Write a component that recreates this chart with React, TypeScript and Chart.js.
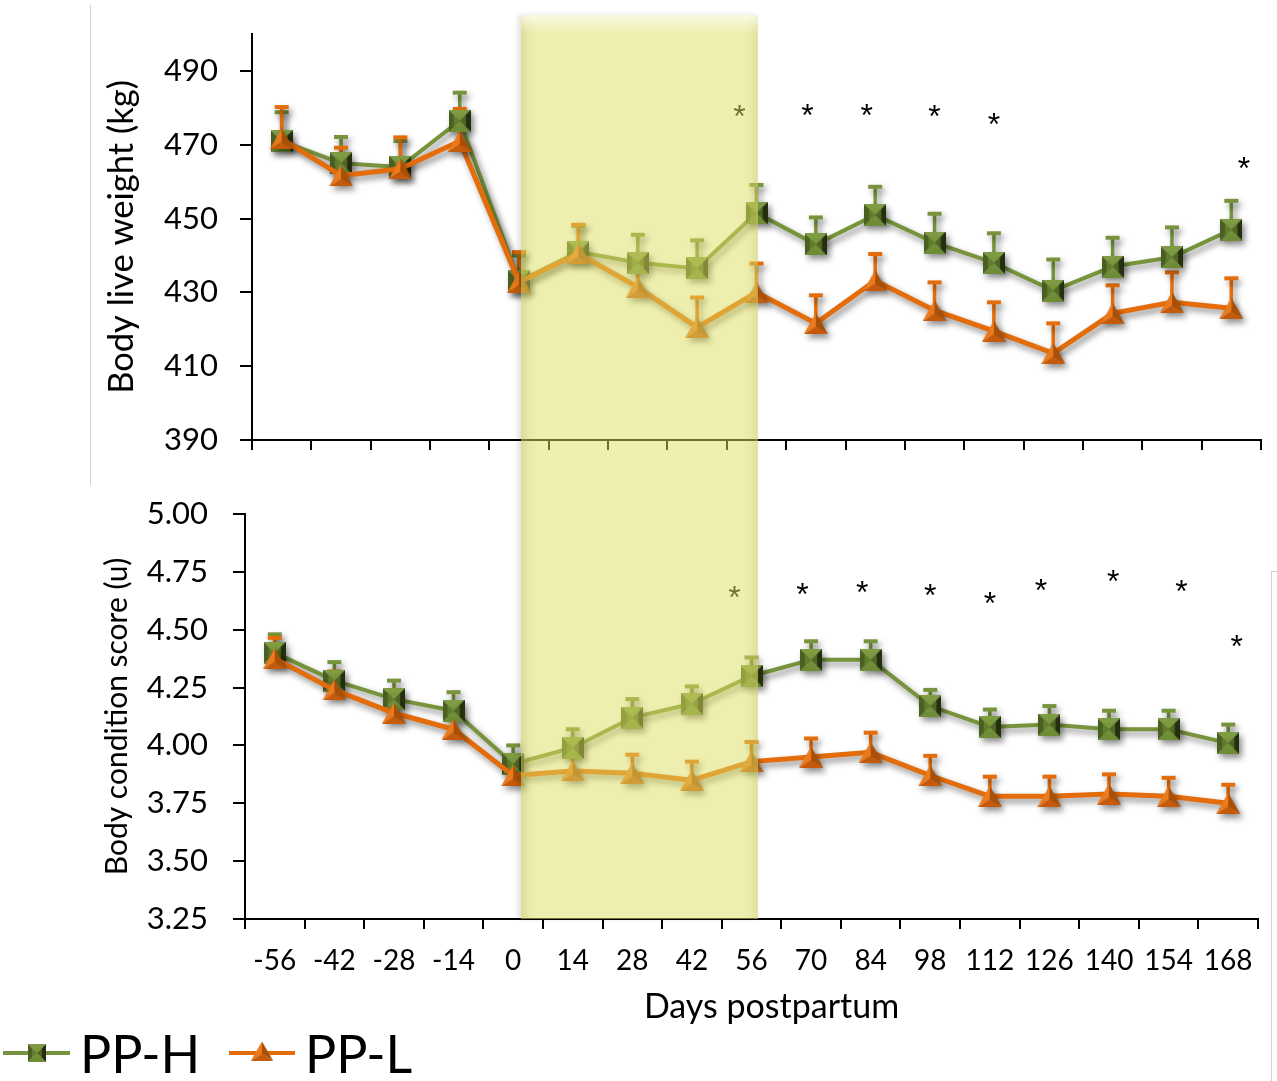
import React, { useEffect, useRef } from 'react';
import { Chart, registerables } from 'chart.js';
Chart.register(...registerables);

// ---------- data ----------
const days = [-56, -42, -28, -14, 0, 14, 28, 42, 56, 70, 84, 98, 112, 126, 140, 154, 168];
const dayLabels = days.map(String);

const weightH = [471, 465, 464, 476.5, 433, 441, 438, 436.5, 451.5, 443, 451, 443.5, 438, 430.5, 437, 439.5, 447];
const weightHErr = [7.8, 7.1, 7, 7.6, 7, 7, 7.6, 7.6, 7.6, 7.3, 7.6, 7.8, 8, 8.4, 7.8, 8.1, 7.8];
const weightL = [471.6, 461.6, 463.5, 471, 432.8, 440.5, 431.4, 420.5, 430, 421.6, 433.2, 425.1, 419.5, 413.5, 424.3, 427.3, 425.7];
const weightLErr = [8.6, 7.6, 8.5, 8.7, 8.1, 7.8, 7.5, 8.1, 7.8, 7.6, 7.2, 7.6, 7.8, 8.1, 7.6, 8.1, 8.1];
const weightTicks = [390, 410, 430, 450, 470, 490];
const weightStarDays = [52, 68, 82, 98, 112, 171];
const weightStarVals = [479.7, 480, 480, 479.7, 477.6, 465.7];

const bcsH = [4.40, 4.28, 4.20, 4.15, 3.92, 3.99, 4.12, 4.18, 4.30, 4.37, 4.37, 4.17, 4.08, 4.09, 4.07, 4.07, 4.01];
const bcsHErr = [0.08, 0.08, 0.08, 0.08, 0.08, 0.08, 0.08, 0.075, 0.08, 0.08, 0.08, 0.07, 0.075, 0.08, 0.08, 0.08, 0.08];
const bcsL = [4.375, 4.24, 4.14, 4.07, 3.87, 3.89, 3.88, 3.85, 3.93, 3.95, 3.97, 3.87, 3.78, 3.78, 3.79, 3.78, 3.75];
const bcsLErr = [0.09, 0.08, 0.08, 0.08, 0.08, 0.08, 0.08, 0.08, 0.085, 0.08, 0.085, 0.085, 0.085, 0.085, 0.085, 0.08, 0.08];
const bcsTicks = [3.25, 3.5, 3.75, 4.0, 4.25, 4.5, 4.75, 5.0];
const bcsStarDays = [52, 68, 82, 98, 112, 124, 141, 157, 170];
const bcsStarVals = [4.672, 4.685, 4.694, 4.681, 4.647, 4.703, 4.741, 4.698, 4.461];

const seriesNames = ['PP-H', 'PP-L'];
const xTitle = 'Days postpartum';

// ---------- styles ----------
const GREEN = '#77933C';
const ORANGE = '#E46C0A';
const FONT = 'Lato, "Open Sans", sans-serif';

function tri(g: CanvasRenderingContext2D, pts: number[][], color: string) {
  g.beginPath();
  g.moveTo(pts[0][0], pts[0][1]);
  for (let i = 1; i < pts.length; i++) g.lineTo(pts[i][0], pts[i][1]);
  g.closePath();
  g.fillStyle = color;
  g.fill();
}

function makeSquare(s: number) {
  const c = document.createElement('canvas');
  c.width = s; c.height = s;
  const g = c.getContext('2d')!;
  const m = s / 2;
  tri(g, [[0, 0], [s, 0], [m, m]], '#7E9C42');
  tri(g, [[0, s], [s, s], [m, m]], '#6E8C36');
  tri(g, [[0, 0], [0, s], [m, m]], '#4A6020');
  tri(g, [[s, 0], [s, s], [m, m]], '#24300D');
  g.fillStyle = 'rgba(119,147,60,0.55)';
  g.fillRect(s * 0.22, s * 0.22, s * 0.56, s * 0.56);
  return c;
}

function makeTriangle(w: number, h: number) {
  const c = document.createElement('canvas');
  c.width = w; c.height = h;
  const g = c.getContext('2d')!;
  const cx = w / 2, cy = h * 0.66;
  tri(g, [[w / 2, 0], [0, h], [cx, cy]], '#EA7A1C');
  tri(g, [[w / 2, 0], [w, h], [cx, cy]], '#A84F08');
  tri(g, [[0, h], [w, h], [cx, cy]], '#C45A0A');
  return c;
}

function decorPlugin(errs: number[][], starDays: number[], starVals: number[]) {
  return {
    id: 'decor',
    beforeDatasetsDraw(chart: any) {
      const ctx = chart.ctx;
      const ys = chart.scales.y;
      ctx.save();
      ctx.shadowColor = 'rgba(0,0,0,0.45)';
      ctx.shadowBlur = 6;
      ctx.shadowOffsetX = 3;
      ctx.shadowOffsetY = 4;
      [0, 1].forEach((di) => {
        const ds = chart.data.datasets[di];
        const meta = chart.getDatasetMeta(di);
        ctx.strokeStyle = ds.borderColor;
        ds.data.forEach((v: number, j: number) => {
          const x = meta.data[j].x;
          const y0 = ys.getPixelForValue(v);
          const y1 = ys.getPixelForValue(v + errs[di][j]);
          ctx.lineWidth = 3.5;
          ctx.beginPath(); ctx.moveTo(x, y0); ctx.lineTo(x, y1); ctx.stroke();
          ctx.lineWidth = 4;
          ctx.beginPath(); ctx.moveTo(x - 7, y1); ctx.lineTo(x + 7, y1); ctx.stroke();
        });
      });
    },
    afterDatasetsDraw(chart: any) {
      const ctx = chart.ctx;
      ctx.restore();
      const xs = chart.scales.x, ys = chart.scales.y;
      ctx.save();
      ctx.fillStyle = '#000';
      ctx.font = `32px "Liberation Sans", Arial, sans-serif`;
      ctx.textAlign = 'center';
      ctx.textBaseline = 'alphabetic';
      starDays.forEach((d, i) => {
        const idx = (d - days[0]) / (days[1] - days[0]);
        const x = xs.getPixelForValue(idx);
        const y = ys.getPixelForValue(starVals[i]);
        ctx.fillText('*', x, y + 18);
      });
      ctx.restore();
    },
  };
}

function legendPlugin(sq: HTMLCanvasElement, tr: HTMLCanvasElement) {
  return {
    id: 'customLegend',
    afterDraw(chart: any) {
      const ctx = chart.ctx;
      const xs = chart.scales.x;
      ctx.save();
      // axis title (offset to the right of the axis centre, as in the source)
      ctx.fillStyle = '#000';
      ctx.font = `34px ${FONT}`;
      ctx.textAlign = 'center';
      ctx.textBaseline = 'middle';
      ctx.fillText(xTitle, (xs.left + xs.right) / 2 + 20, 537);
      // legend
      const y = 583;
      ctx.lineWidth = 4;
      ctx.strokeStyle = GREEN;
      ctx.beginPath(); ctx.moveTo(3, y); ctx.lineTo(70, y); ctx.stroke();
      ctx.drawImage(sq, 37 - sq.width / 2, y - sq.height / 2);
      ctx.strokeStyle = ORANGE;
      ctx.beginPath(); ctx.moveTo(229, y); ctx.lineTo(295, y); ctx.stroke();
      ctx.drawImage(tr, 262 - tr.width / 2, y - tr.height / 2 - 2);
      ctx.font = `52px ${FONT}`;
      ctx.textBaseline = 'alphabetic';
      ctx.textAlign = 'left';
      ctx.fillText(seriesNames[0], 80, 603);
      ctx.fillText(seriesNames[1], 305, 603);
      ctx.restore();
    },
  };
}

function axisCommon(tickLength: number) {
  return {
    grid: { drawOnChartArea: false, drawTicks: true, tickLength, color: '#000', lineWidth: 2 },
    border: { display: true, color: '#000', width: 2 },
  };
}

export default function App() {
  const topRef = useRef<HTMLCanvasElement>(null);
  const botRef = useRef<HTMLCanvasElement>(null);

  useEffect(() => {
    const sq = makeSquare(22);
    const trg = makeTriangle(24, 21);
    const sqL = makeSquare(18);
    const trL = makeTriangle(22, 19);

    const mkDatasets = (h: number[], l: number[]) => [
      { label: seriesNames[0], data: h, borderColor: GREEN, backgroundColor: GREEN, borderWidth: 4, pointStyle: sq, pointRadius: 11, order: 1 },
      { label: seriesNames[1], data: l, borderColor: ORANGE, backgroundColor: ORANGE, borderWidth: 5, pointStyle: trg, pointRadius: 11, order: 0 },
    ];

    const top = new Chart(topRef.current!, {
      type: 'line',
      data: { labels: dayLabels, datasets: mkDatasets(weightH, weightL) as any },
      options: {
        animation: false,
        responsive: false,
        layout: { padding: { top: 34, right: 12, bottom: 0, left: 0 } },
        plugins: { legend: { display: false }, tooltip: { enabled: false } },
        scales: {
          x: {
            type: 'category',
            offset: true,
            ...axisCommon(10),
            grid: { ...axisCommon(10).grid, offset: true },
            ticks: { display: false },
            afterFit: (s: any) => { s.height = 30; s.paddingLeft = 0; s.paddingRight = 0; },
          },
          y: {
            min: 390, max: 500,
            ...axisCommon(12),
            afterBuildTicks: (s: any) => { s.ticks = weightTicks.map((v) => ({ value: v })); },
            ticks: { color: '#000', font: { family: FONT, size: 31 }, padding: 22 },
            title: { display: true, text: 'Body live weight (kg)', color: '#000', font: { family: FONT, size: 34.5 }, padding: { top: 101, bottom: 0 } },
            afterFit: (s: any) => { s.width = 252; s.paddingTop = 0; s.paddingBottom = 0; },
          },
        },
      } as any,
      plugins: [decorPlugin([weightHErr, weightLErr], weightStarDays, weightStarVals)],
    });

    const bot = new Chart(botRef.current!, {
      type: 'line',
      data: { labels: dayLabels, datasets: mkDatasets(bcsH, bcsL) as any },
      options: {
        animation: false,
        responsive: false,
        layout: { padding: { top: 44, right: 19, bottom: 0, left: 0 } },
        plugins: { legend: { display: false }, tooltip: { enabled: false } },
        scales: {
          x: {
            type: 'category',
            offset: true,
            ...axisCommon(10),
            grid: { ...axisCommon(10).grid, offset: true },
            ticks: { color: '#000', font: { family: FONT, size: 28 }, padding: 15, maxRotation: 0, autoSkip: false },
            afterFit: (s: any) => { s.height = 162; s.paddingLeft = 0; s.paddingRight = 0; },
          },
          y: {
            min: 3.25, max: 5.0,
            ...axisCommon(12),
            afterBuildTicks: (s: any) => { s.ticks = bcsTicks.map((v) => ({ value: v })); },
            ticks: { color: '#000', font: { family: FONT, size: 31 }, padding: 25, callback: (v: any) => Number(v).toFixed(2) },
            title: { display: true, text: 'Body condition score (u)', color: '#000', font: { family: FONT, size: 30 }, padding: { top: 99, bottom: 0 } },
            afterFit: (s: any) => { s.width = 245; s.paddingTop = 0; s.paddingBottom = 0; },
          },
        },
      } as any,
      plugins: [decorPlugin([bcsHErr, bcsLErr], bcsStarDays, bcsStarVals), legendPlugin(sqL, trL)],
    });

    return () => { top.destroy(); bot.destroy(); };
  }, []);

  return (
    <div style={{ position: 'absolute', left: 0, top: 0, width: 1277, height: 1081, background: '#fff', overflow: 'hidden' }}>
      <div style={{ position: 'absolute', left: 90, top: 5, width: 1, height: 480, background: '#d0d0d0' }} />
      <div style={{ position: 'absolute', left: 1271, top: 571, width: 1, height: 510, background: '#d0d0d0' }} />
      <div style={{ position: 'absolute', left: 1271, top: 571, width: 6, height: 1, background: '#d0d0d0' }} />
      <canvas ref={topRef} width={1277} height={470} style={{ position: 'absolute', left: 0, top: 0 }} />
      <canvas ref={botRef} width={1277} height={611} style={{ position: 'absolute', left: 0, top: 470 }} />
      <div
        style={{
          position: 'absolute', left: 521, top: 15, width: 237, height: 904, pointerEvents: 'none',
          background: 'rgba(222,222,95,0.5)',
          boxShadow: 'inset 0 16px 14px -8px rgba(255,255,255,0.75), inset 12px 0 10px -8px rgba(140,140,40,0.25), inset -12px 0 10px -8px rgba(140,140,40,0.2), -3px 0 5px rgba(0,0,0,0.12)',
        }}
      />
    </div>
  );
}
